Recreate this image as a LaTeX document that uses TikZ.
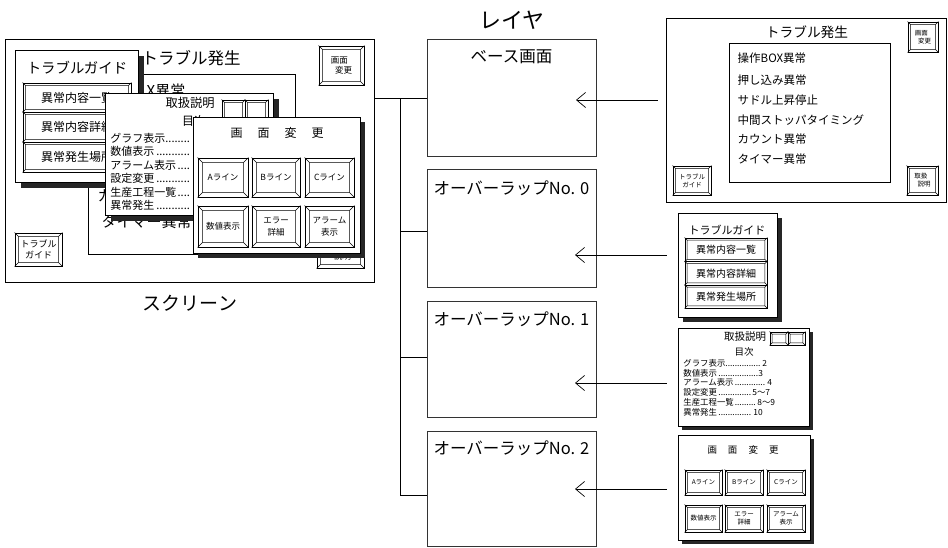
\documentclass[tikz,border=0pt]{standalone}
\usepackage{fontspec}
\setmainfont{Noto Sans CJK JP}
\usetikzlibrary{calc,fit,arrows.meta}
\newcommand\fs[2]{\fontsize{#1}{#2}\selectfont}
\newcommand\dotline[3]{\makebox[#1pt][l]{#2\leaders\hbox{.}\hfill}#3}
\newcommand\bbtn[8]{%
 \node[fit={(#2,#3)(#4,#5)}, inner sep=0, draw, fill=white, line width=0.9pt] (#1) {};
 \draw[line width=0.5pt] ($(#1.north west)+(#6,#6)$) rectangle ($(#1.south east)+(-#6,-#6)$)
   (#1.north west) -- ++(#6,#6) (#1.north east) -- ++(-#6,#6)
   (#1.south east) -- ++(-#6,-#6) (#1.south west) -- ++(#6,-#6);
 \node[align=center, inner sep=0, font=#7] (#1t) at (#1.center) {#8};}
\newcommand\shpanel[6]{%
 \fill[black!85] ($(#2,#3)+(#6,#6)$) rectangle ($(#4,#5)+(#6,#6)$);
 \node[fit={(#2,#3)(#4,#5)}, inner sep=0, draw, fill=white] (#1) {};}
\begin{document}
\begin{tikzpicture}[x=1pt,y=-1pt,line width=0.8pt,
  frame/.style={draw, inner sep=0},
  layerbox/.style={draw=black!80, line width=1pt, inner sep=0},
  arr/.style={-{Straight Barb[length=9pt,width=15pt]}, line width=0.7pt}]
\useasboundingbox (0,0) rectangle (948,548);

% ---------------- left screen ----------------
\node[fit={(5,40)(374,282)}, frame, line width=1pt] (screen) {};
\node[font=\fs{16.5}{20}] (lt) at (191,58) {トラブル発生};
\node[fit={(88,74)(295,254)}, frame] (llist) {};
\node[anchor=west, font=\fs{15}{18}] (li1) at (143,91) {X異常};
\node[anchor=west, font=\fs{15}{18}] (li5) at (94,196) {カ};
\node[anchor=west, font=\fs{15}{18}] (li6) at (98,222) {タイマー異常};
\bbtn{lb1}{319}{46}{364}{85}{4}{\fs{8.5}{10}}{画面\hspace*{.5em}\\\hspace*{.5em}変更}
\bbtn{lb2}{15}{233}{62}{266}{4}{\fs{9}{11}}{トラブル\\ガイド}
\bbtn{lb3}{317}{234}{364}{268}{4}{\fs{8.5}{10}}{取扱\hspace*{.5em}\\\hspace*{.5em}説明}

% trouble guide overlay
\shpanel{ltg}{15}{50}{138}{182}{6}
\node[font=\fs{14.4}{17}] (ltgt) at (77,68) {トラブルガイド};
\bbtn{ltg1}{23}{83}{131}{112}{3}{\fs{12}{14}}{異常内容一覧}
\bbtn{ltg2}{23}{112}{131}{142}{3}{\fs{12}{14}}{異常内容詳細}
\bbtn{ltg3}{23}{142}{131}{172}{3}{\fs{12}{14}}{異常発生場所}

% manual overlay
\shpanel{lth}{105}{93}{273}{215}{6}
\node[font=\fs{12.25}{15}] (ltht) at (190,103) {取扱説明};
\bbtn{lths1}{222}{100}{245}{120}{3}{\fs{5}{6}}{}
\bbtn{lths2}{245}{100}{268}{120}{3}{\fs{5}{6}}{}
\node[font=\fs{12}{14}] (lthm) at (194,121) {目次};
\node[anchor=west, font=\fs{11}{13}, inner sep=0] (lc1) at (110,138) {\dotline{82}{グラフ表示}{}};
\node[anchor=west, font=\fs{11}{13}, inner sep=0] (lc2) at (110,151.5) {\dotline{82}{数値表示}{}};
\node[anchor=west, font=\fs{11}{13}, inner sep=0] (lc3) at (110,165) {\dotline{82}{アラーム表示}{}};
\node[anchor=west, font=\fs{11}{13}, inner sep=0] (lc4) at (110,178.5) {\dotline{82}{設定変更}{}};
\node[anchor=west, font=\fs{11}{13}, inner sep=0] (lc5) at (110,192) {\dotline{82}{生産工程一覧}{}};
\node[anchor=west, font=\fs{11}{13}, inner sep=0] (lc6) at (110,205.5) {\dotline{82}{異常発生}{}};

% screen change overlay
\shpanel{lgm}{193}{117}{360}{253}{5}
\node[font=\fs{12}{14}] (lgmt) at (277,133) {画\hspace{15pt}面\hspace{15pt}変\hspace{15pt}更};
\bbtn{lg1}{198}{158}{248}{197}{5}{\fs{8.5}{10}}{Aライン}
\bbtn{lg2}{252}{158}{300}{197}{5}{\fs{8.5}{10}}{Bライン}
\bbtn{lg3}{305}{158}{354}{197}{5}{\fs{8.5}{10}}{Cライン}
\bbtn{lg4}{198}{206}{248}{247}{5}{\fs{8.5}{10}}{数値表示}
\bbtn{lg5}{252}{206}{300}{247}{5}{\fs{8.5}{11.5}}{エラー\\詳細}
\bbtn{lg6}{305}{206}{354}{247}{5}{\fs{8.5}{11.5}}{アラーム\\表示}

\node[font=\fs{19}{22}] (scrlabel) at (190,303) {スクリーン};

% ---------------- layers ----------------
\node[font=\fs{22}{26}] (laylabel) at (512,20) {レイヤ};
\node[fit={(427,40)(596,157)}, layerbox] (base) {};
\node[font=\fs{16.5}{20}] (baset) at (511.5,57) {ベース画面};
\node[fit={(427,170)(596,287)}, layerbox] (ov0) {};
\node[font=\fs{16.5}{20}] (ov0t) at (511.5,188) {オーバーラップNo. 0};
\node[fit={(427,301)(596,417)}, layerbox] (ov1) {};
\node[font=\fs{16.5}{20}] (ov1t) at (511.5,319) {オーバーラップNo. 1};
\node[fit={(427,431)(596,546)}, layerbox] (ov2) {};
\node[font=\fs{16.5}{20}] (ov2t) at (511.5,448) {オーバーラップNo. 2};

\coordinate (bb) at (400,98.5);
\coordinate (b0) at (400,231);
\coordinate (b1) at (400,357);
\coordinate (b2) at (400,495);
\draw[line width=0.9pt] (screen.east |- bb) -- (base.west |- bb);
\draw[line width=0.9pt] (bb) -- (b2) -- (ov2.west |- b2);
\draw[line width=0.9pt] (b0) -- (ov0.west |- b0);
\draw[line width=0.9pt] (b1) -- (ov1.west |- b1);

% ---------------- right: trouble screen ----------------
\node[fit={(666,19)(946.5,203)}, frame, line width=1pt] (rtp) {};
\node[font=\fs{13.7}{16}] (rtpt) at (807,32) {トラブル発生};
\node[fit={(729,43)(890,182)}, frame] (rlist) {};
\node[anchor=west, font=\fs{11.5}{14}] (ri1) at (734,58) {操作BOX異常};
\node[anchor=west, font=\fs{11.5}{14}] (ri2) at (734,80) {押し込み異常};
\node[anchor=west, font=\fs{11.5}{14}] (ri3) at (734,100) {サドル上昇停止};
\node[anchor=west, font=\fs{11.5}{14}] (ri4) at (734,120) {中間ストッパタイミング};
\node[anchor=west, font=\fs{11.5}{14}] (ri5) at (734,139) {カウント異常};
\node[anchor=west, font=\fs{11.5}{14}] (ri6) at (734,159) {タイマー異常};
\bbtn{rb1}{908}{22}{938}{52}{3}{\fs{6.5}{8}}{画面\hspace*{.5em}\\\hspace*{.5em}変更}
\bbtn{rb2}{673}{166}{711}{195}{3}{\fs{6.5}{8}}{トラブル\\ガイド}
\bbtn{rb3}{907}{166}{938}{195}{3}{\fs{6.5}{8}}{取扱\hspace*{.5em}\\\hspace*{.5em}説明}

% right: trouble guide
\shpanel{rtg}{678}{213}{777}{317}{5}
\node[font=\fs{11}{13}] (rtgt) at (727,230) {トラブルガイド};
\bbtn{rtg1}{685}{238}{767}{261.5}{2.5}{\fs{10}{12}}{異常内容一覧}
\bbtn{rtg2}{685}{261.5}{767}{285}{2.5}{\fs{10}{12}}{異常内容詳細}
\bbtn{rtg3}{685}{285}{767}{308}{2.5}{\fs{10}{12}}{異常発生場所}

% right: manual
\shpanel{rth}{678}{328}{809}{426}{4}
\node[font=\fs{10.5}{12}] (rtht) at (745,337) {取扱説明};
\bbtn{rths1}{770}{332}{788}{345}{2.5}{\fs{5}{6}}{}
\bbtn{rths2}{788}{332}{805}{345}{2.5}{\fs{5}{6}}{}
\node[font=\fs{9.5}{11}] (rthm) at (744,352) {目次};
\node[anchor=west, font=\fs{8.4}{10}, inner sep=0] (rc1) at (683,363) {\dotline{79}{グラフ表示}{2}};
\node[anchor=west, font=\fs{8.4}{10}, inner sep=0] (rc2) at (683,373) {\dotline{75}{数値表示}{3}};
\node[anchor=west, font=\fs{8.4}{10}, inner sep=0] (rc3) at (683,382.5) {\dotline{84}{アラーム表示}{4}};
\node[anchor=west, font=\fs{8.4}{10}, inner sep=0] (rc4) at (683,392) {\dotline{69}{設定変更}{5～7}};
\node[anchor=west, font=\fs{8.4}{10}, inner sep=0] (rc5) at (683,402) {\dotline{74}{生産工程一覧}{8～9}};
\node[anchor=west, font=\fs{8.4}{10}, inner sep=0] (rc6) at (683,412) {\dotline{70}{異常発生}{10}};

% right: screen change
\shpanel{rgm}{678}{435}{810}{540}{4}
\node[font=\fs{9.5}{11}] (rgmt) at (743,450) {画\hspace{11pt}面\hspace{11pt}変\hspace{11pt}更};
\bbtn{rg1}{685}{470}{722}{495}{3}{\fs{6.5}{8}}{Aライン}
\bbtn{rg2}{725}{470}{763}{495}{3}{\fs{6.5}{8}}{Bライン}
\bbtn{rg3}{767}{470}{805}{495}{3}{\fs{6.5}{8}}{Cライン}
\bbtn{rg4}{685}{505}{722}{532}{3}{\fs{6.5}{8}}{数値表示}
\bbtn{rg5}{725}{505}{763}{532}{3}{\fs{6.5}{8}}{エラー\\詳細}
\bbtn{rg6}{767}{505}{805}{532}{3}{\fs{6.5}{8}}{アラーム\\表示}

% ---------------- arrows ----------------
\coordinate (t0) at (576,100);
\coordinate (t1) at (575,255);
\coordinate (t2) at (575,383);
\coordinate (t3) at (575,489);
\draw[arr] ($(rtp.west |- t0)+(-8,0)$) -- (t0);
\draw[arr] ($(rtg.west |- t1)+(-11,0)$) -- (t1);
\draw[arr] ($(rth.west |- t2)+(-11,0)$) -- (t2);
\draw[arr] ($(rgm.west |- t3)+(-11,0)$) -- (t3);
\end{tikzpicture}
\end{document}
